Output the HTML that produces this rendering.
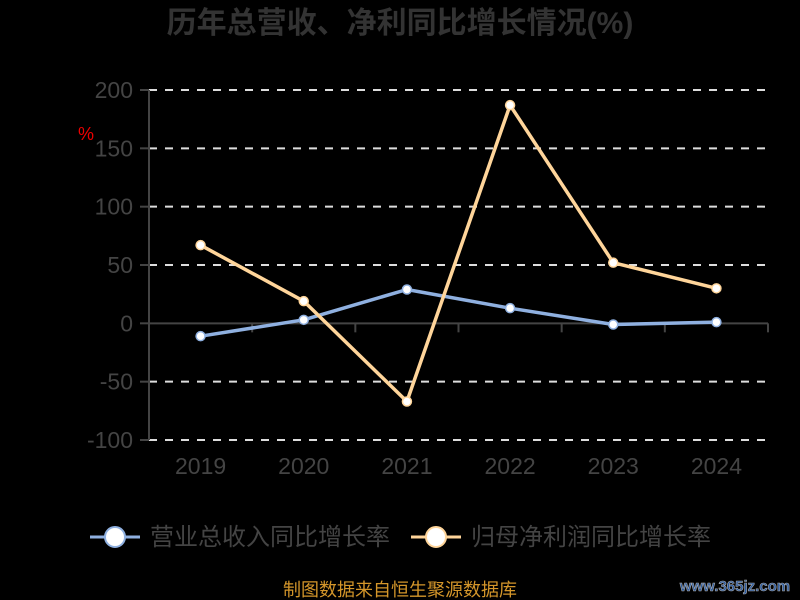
<!DOCTYPE html>
<html><head><meta charset="utf-8">
<style>
html,body{margin:0;padding:0;background:#000;}
svg{display:block;font-family:"Liberation Sans","Noto Sans CJK SC",sans-serif;}
</style></head>
<body>
<svg id="chart" width="800" height="600" viewBox="0 0 800 600">
<text x="400" y="33" text-anchor="middle" font-size="30" font-weight="bold" fill="#333">历年总营收、净利同比增长情况(%)</text>
<text x="86" y="140" text-anchor="middle" font-size="18" fill="#e00">%</text>
<g id="grid"></g>
<g id="axes"></g>
<g id="series"></g>
<g>
  <g>
    <line x1="90" y1="537" x2="140" y2="537" stroke="#8fb0e0" stroke-width="3"/>
    <circle cx="115" cy="537" r="10" fill="#fff" stroke="#8fb0e0" stroke-width="2"/>
    <text x="150" y="545" font-size="24" fill="#444">营业总收入同比增长率</text>
  </g>
  <g>
    <line x1="411" y1="537" x2="461" y2="537" stroke="#ffd59a" stroke-width="3"/>
    <circle cx="436" cy="537" r="10" fill="#fff" stroke="#ffd59a" stroke-width="2"/>
    <text x="471" y="545" font-size="24" fill="#444">归母净利润同比增长率</text>
  </g>
</g>
<text x="400" y="596" text-anchor="middle" font-size="18" fill="#d4962a">制图数据来自恒生聚源数据库</text>
<text x="735" y="591" text-anchor="middle" font-size="15" font-weight="bold" fill="#2a5aa0" stroke="#aaa" stroke-width="0.6">www.365jz.com</text>
</svg>
<script>
const categories = ["2019","2020","2021","2022","2023","2024"];
const revenueGrowth = [-11, 3, 29, 13, -1, 1];
const profitGrowth = [67, 19, -67, 187, 52, 30];
const yTicks = [200, 150, 100, 50, 0, -50, -100];

const NS = "http://www.w3.org/2000/svg";
const plotLeft = 149, plotRight = 768, plotTop = 90, plotBottom = 440, yMax = 200, yMin = -100;
const band = (plotRight - plotLeft) / categories.length;
const xPos = i => plotLeft + band * (i + 0.5);
const yPos = v => plotTop + (yMax - v) / (yMax - yMin) * (plotBottom - plotTop);
function mk(tag, attrs, parent){const e=document.createElementNS(NS,tag);for(const k in attrs)e.setAttribute(k,attrs[k]);parent.appendChild(e);return e;}

const gridG = document.getElementById("grid"), axesG = document.getElementById("axes"), seriesG = document.getElementById("series");
yTicks.forEach(t => {
  const y = yPos(t);
  if (t !== 0) {
    const g = mk("line",{x1:plotLeft,x2:plotRight,y1:y,y2:y,stroke:"#ddd","stroke-width":2,"stroke-dasharray":"8,8"},gridG);
    
    
  }
  const tk = mk("line",{x1:plotLeft-9,x2:plotLeft,y1:y,y2:y,stroke:"#444","stroke-width":2},axesG);
  
  
  const lb = mk("text",{x:plotLeft-16,y:y+8,"text-anchor":"end","font-size":23,fill:"#444"},axesG);
  lb.textContent = t;
  
  
});
const ya = mk("line",{x1:plotLeft,x2:plotLeft,y1:plotTop,y2:plotBottom,stroke:"#444","stroke-width":2},axesG);


const y0 = yPos(0);
const xa = mk("line",{x1:plotLeft,x2:plotRight,y1:y0,y2:y0,stroke:"#444","stroke-width":2},axesG);


for (let i = 0; i <= categories.length; i++) {
  const x = plotLeft + band * i;
  const tk = mk("line",{x1:x,x2:x,y1:y0,y2:y0+9,stroke:"#444","stroke-width":2},axesG);
  
  
}
categories.forEach((c,i) => {
  const lb = mk("text",{x:xPos(i),y:474,"text-anchor":"middle","font-size":23,fill:"#444"},axesG);
  lb.textContent = c;
  
  
});
function drawSeries(vals, color, name){
  const pts = vals.map((v,i)=>xPos(i)+","+yPos(v)).join(" ");
  const pl = mk("polyline",{points:pts,fill:"none",stroke:color,"stroke-width":3.5,"stroke-linejoin":"round"},seriesG);
  
  
  vals.forEach((v,i)=>{
    const c = mk("circle",{cx:xPos(i),cy:yPos(v),r:4.5,fill:"#fff",stroke:color,"stroke-width":1.5},seriesG);
    
    
  });
}
drawSeries(revenueGrowth, "#8fb0e0", "revenue-growth");
drawSeries(profitGrowth, "#ffd59a", "profit-growth");
</script>
</body></html>
